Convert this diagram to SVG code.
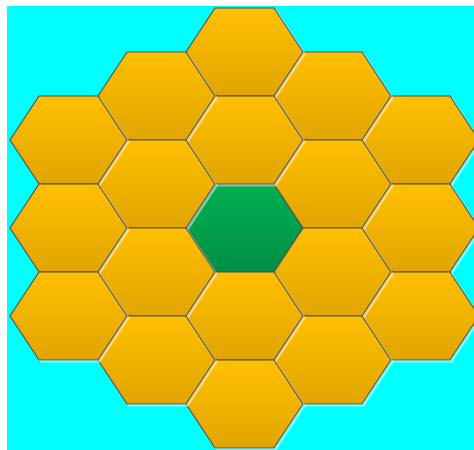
<svg xmlns="http://www.w3.org/2000/svg" xmlns:xlink="http://www.w3.org/1999/xlink" width="474" height="450" viewBox="0 0 474 450">
<defs>
<linearGradient id="gOr" x1="0" y1="0" x2="0" y2="1">
<stop offset="0" stop-color="#FFC000"/>
<stop offset="1" stop-color="#E0A500"/>
</linearGradient>
<linearGradient id="gGr" x1="0" y1="0" x2="0" y2="1">
<stop offset="0" stop-color="#00B050"/>
<stop offset="1" stop-color="#008E48"/>
</linearGradient>
<filter id="sh" x="-10%" y="-10%" width="130%" height="130%">
<feOffset in="SourceAlpha" dx="2" dy="2" result="o"/>
<feFlood flood-color="#ffffff" flood-opacity="0.45"/>
<feComposite in2="o" operator="in" result="s"/>
<feMerge><feMergeNode in="s"/><feMergeNode in="SourceGraphic"/></feMerge>
</filter>
<path id="hex" d="M-58.5,0 L-29.5,-44 L29.5,-44 L58.5,0 L29.5,44 L-29.5,44 Z"/>
</defs>
<style>
.h{fill:url(#gOr);stroke:#505050;stroke-width:1.2;filter:url(#sh)}
.c{fill:url(#gGr);stroke:#505050;stroke-width:1.2;filter:url(#sh)}
</style>
<rect x="7" y="6" width="467" height="444" fill="#00FFFF"/>
<g id="connectors"/>
<g id="hex-center"><use xlink:href="#hex" class="c" transform="translate(244.5,228)"/></g>
<g id="hex-r2-1"><use xlink:href="#hex" class="h" transform="translate(420.5,140)"/></g>
<g id="hex-r2-2"><use xlink:href="#hex" class="h" transform="translate(420.5,228)"/></g>
<g id="hex-r2-3"><use xlink:href="#hex" class="h" transform="translate(420.5,316)"/></g>
<g id="hex-r1-1"><use xlink:href="#hex" class="h" transform="translate(332.5,96)"/></g>
<g id="hex-r1-2"><use xlink:href="#hex" class="h" transform="translate(332.5,184)"/></g>
<g id="hex-r1-3"><use xlink:href="#hex" class="h" transform="translate(332.5,272)"/></g>
<g id="hex-r1-4"><use xlink:href="#hex" class="h" transform="translate(332.5,360)"/></g>
<g id="hex-c-1"><use xlink:href="#hex" class="h" transform="translate(244.5,52)"/></g>
<g id="hex-c-2"><use xlink:href="#hex" class="h" transform="translate(244.5,140)"/></g>
<g id="hex-c-4"><use xlink:href="#hex" class="h" transform="translate(244.5,316)"/></g>
<g id="hex-c-5"><use xlink:href="#hex" class="h" transform="translate(244.5,404)"/></g>
<g id="hex-l1-1"><use xlink:href="#hex" class="h" transform="translate(156.5,96)"/></g>
<g id="hex-l1-2"><use xlink:href="#hex" class="h" transform="translate(156.5,184)"/></g>
<g id="hex-l1-3"><use xlink:href="#hex" class="h" transform="translate(156.5,272)"/></g>
<g id="hex-l1-4"><use xlink:href="#hex" class="h" transform="translate(156.5,360)"/></g>
<g id="hex-l2-1"><use xlink:href="#hex" class="h" transform="translate(68.5,140)"/></g>
<g id="hex-l2-2"><use xlink:href="#hex" class="h" transform="translate(68.5,228)"/></g>
<g id="hex-l2-3"><use xlink:href="#hex" class="h" transform="translate(68.5,316)"/></g>
</svg>
